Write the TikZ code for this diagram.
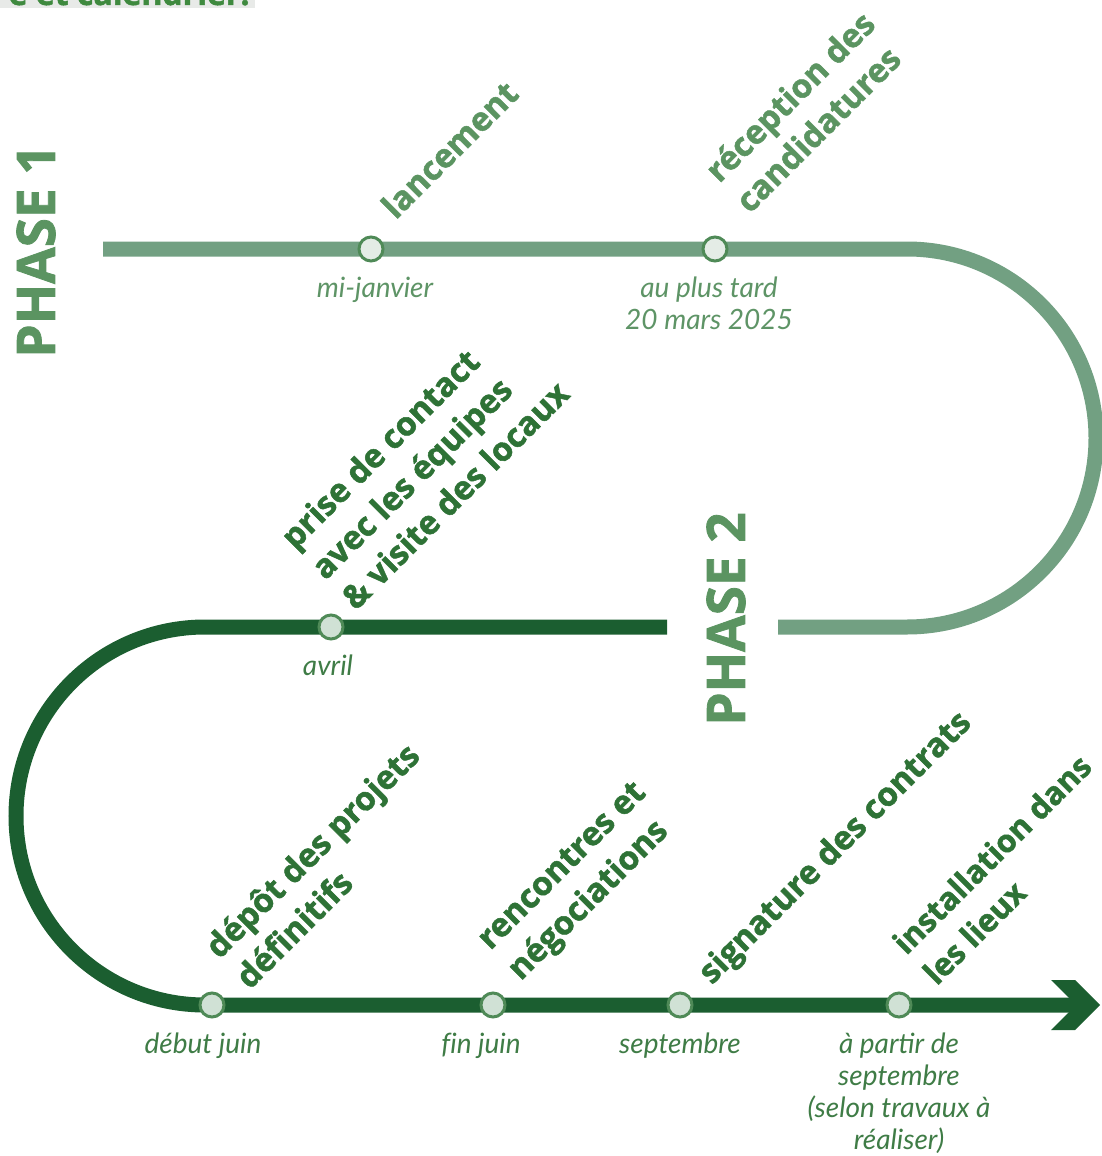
\documentclass[tikz,border=0pt]{standalone}
\usepackage{fontspec}
\setmainfont{Open Sans}[BoldFeatures={FakeBold=1.5}]
\newfontfamily\datefont{Lato}
\usetikzlibrary{positioning}

\definecolor{lineLight}{HTML}{72A082}
\definecolor{lineDark}{HTML}{1B5E30}
\definecolor{txtLight}{HTML}{5B9461}
\definecolor{txtDark}{HTML}{2E7236}
\definecolor{txtTitle}{HTML}{3F8A3F}
\definecolor{dateLight}{HTML}{5E9466}
\definecolor{dateDark}{HTML}{3F7C46}
\definecolor{dotFill}{HTML}{E4ECE6}
\definecolor{dotFillDark}{HTML}{D0E1D5}
\definecolor{dotRing}{HTML}{4F8A57}
\definecolor{titleBg}{HTML}{E8EAE8}

\begin{document}
\begin{tikzpicture}[x=0.5pt,y=-0.5pt]

    \tikzset{
      track/.style={
        line width=7.5pt,
      },
      dot/.style={
        circle,
        draw=dotRing,
        line width=1.5pt,
        fill=dotFill,
        minimum size=12pt,
        inner sep=0pt,
      },
      lbl/.style={
        rotate=45,
        anchor=south west,
        align=left,
        inner sep=0pt,
        font=\bfseries\fontsize{16.5}{21.5}\selectfont,
      },
      date/.style={
        align=center,
        inner sep=0pt,
        font=\datefont\itshape\fontsize{14}{16}\selectfont,
      },
      phase/.style={
        rotate=90,
        inner sep=0pt,
        text=txtLight,
        font=\bfseries\fontsize{26.5}{30}\selectfont,
      },
    }
    \useasboundingbox (0,0) rectangle (1102,1156);
    \clip (0,0) rectangle (1102,1156);

	% title strip, cut by the page edge
	\fill[titleBg] (0,-30) rectangle (255,8);
	\node[anchor=base east,inner sep=0pt,text=txtTitle,font=\bfseries\fontsize{16}{20}\selectfont] (ttl) at (250,5) {e et calendrier.};

	\draw[track,lineLight] (103,249) -- (907,249) arc[start angle=-90,end angle=90,radius=189] -- (778,627);
	\draw[track,lineDark] (667,627) -- (205,627) arc[start angle=270,end angle=90,radius=189] -- (1078,1005);
	\fill[lineDark] (1051,980) -- (1075,980) -- (1100,1005) -- (1075,1030) -- (1051,1030) -- (1076,1005) -- cycle;

	\node[dot] (m1) at (371,249) {};
	\node[dot] (m2) at (715,249) {};
	\node[dot,fill=dotFillDark] (m3) at (331,627) {};
	\node[dot,fill=dotFillDark] (m4) at (212,1005) {};
	\node[dot,fill=dotFillDark] (m5) at (493,1005) {};
	\node[dot,fill=dotFillDark] (m6) at (680,1005) {};
	\node[dot,fill=dotFillDark] (m7) at (899,1005) {};

	\node[date,text=dateLight,below=6pt of m1,xshift=2pt] (d1) {\strut mi-janvier};
	\node[date,text=dateLight,below=6pt of m2,xshift=-3pt] (d2) {\strut au plus tard\\20 mars 2025};
	\node[date,text=dateDark,below=6pt of m3,xshift=-1.5pt] (d3) {\strut avril};
	\node[date,text=dateDark,below=6pt of m4,xshift=-4.5pt] (d4) {\strut début juin};
	\node[date,text=dateDark,below=6pt of m5,xshift=-6pt] (d5) {\strut f\kern0pt in juin};
	\node[date,text=dateDark,below=6pt of m6] (d6) {\strut septembre};
	\node[date,text=dateDark,below=6pt of m7] (d7) {\strut à partir de\\septembre\\(selon travaux à\\réaliser)};

	\node[lbl,text=txtLight] (e1) at (405,230) {lancement\strut};
	\node[lbl,text=txtLight] (e2) at (759,224) {réception des\\candidatures\strut};
	\node[lbl,text=txtDark] (e3) at (365,621) {prise de contact\\avec les équipes\\\& visite des locaux\strut};
	\node[lbl,text=txtDark] (e4) at (259,1000) {dépôt des projets\\définitifs\strut};
	\node[lbl,text=txtDark] (e5) at (530,991) {rencontres et\\négociations\strut};
	\node[lbl,text=txtDark] (e6) at (721,995) {signature des contrats\strut};
	\node[lbl,text=txtDark,font=\bfseries\fontsize{15.8}{21.5}\selectfont] (e7) at (946,996) {installation dans\\les lieux\strut};

	\node[phase] (p1) at (36,251) {PHASE 1};
	\node[phase] (p2) at (726,619) {PHASE 2};

\end{tikzpicture}
\end{document}
